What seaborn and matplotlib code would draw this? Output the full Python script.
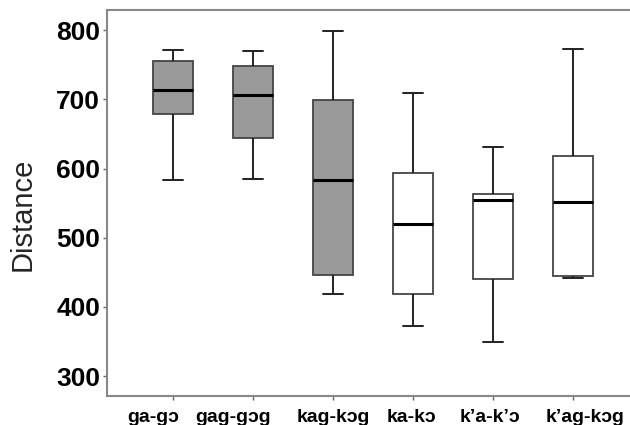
import matplotlib
matplotlib.use("Agg")
import matplotlib.pyplot as plt
import matplotlib.transforms as mtransforms
import seaborn as sns
import pandas as pd

categories = ["ga-gɔ", "gag-gɔg", "kag-kɔg", "ka-kɔ", "k’a-k’ɔ", "k’ag-kɔg"]
# five-number summaries: lower whisker, Q1, median, Q3, upper whisker
ga_go = [583.6, 679.3, 713.5, 755.3, 771.0]
gag_gog = [584.6, 643.8, 705.8, 747.6, 770.0]
kag_kog = [418.7, 446.0, 583.6, 699.0, 799.5]
ka_ko = [372.6, 419.2, 520.2, 593.7, 709.6]
kpa_kpo = [349.0, 440.4, 555.2, 563.9, 631.2]
kpag_kog = [442.3, 444.7, 551.5, 617.8, 773.6]
groups = [ga_go, gag_gog, kag_kog, ka_ko, kpa_kpo, kpag_kog]
fill_colors = ["#999999", "#999999", "#999999", "#ffffff", "#ffffff", "#ffffff"]
yticks = [300, 400, 500, 600, 700, 800]

rows = []
for cat, vals in zip(categories, groups):
    for v in vals:
        rows.append({"cat": cat, "Distance": v})
df = pd.DataFrame(rows)

sns.set_theme(style="white")
plt.rcParams["font.family"] = ["Liberation Sans", "DejaVu Sans"]

fig = plt.figure(figsize=(6.3, 4.25), dpi=100)
ax = fig.add_axes([0.170, 0.068, 0.83, 0.908])

sns.boxplot(data=df, x="cat", y="Distance", order=categories, hue="cat",
            hue_order=categories, palette=fill_colors, legend=False,
            width=0.5, whis=1.5, linecolor="#333333", linewidth=1.3,
            saturation=1, showfliers=False,
            medianprops=dict(color="black", linewidth=2.2),
            whiskerprops=dict(color="#222222", linewidth=1.4),
            capprops=dict(color="#222222", linewidth=1.4),
            boxprops=dict(edgecolor="#444444", linewidth=1.3),
            ax=ax)

ax.set_xlim(-0.825, 5.71)
ax.set_ylim(271, 829)
ax.set_yticks(yticks)
ax.set_yticklabels([str(t) for t in yticks], fontsize=19, fontweight="bold")
ax.set_xticks(range(len(categories)))
ax.set_xticklabels([""] * len(categories))
ax.set_xlabel("")
ax.set_ylabel("Distance", fontsize=21)
ax.yaxis.set_label_coords(-0.135, 0.47)

# category labels, shifted horizontally (pixels) relative to their ticks as in the picture
label_shift_px = [-20, -20, 0, -2, -3, 12]
base = mtransforms.blended_transform_factory(ax.transData, ax.transAxes)
for i, (cat, dx) in enumerate(zip(categories, label_shift_px)):
    tr = base + mtransforms.ScaledTranslation(dx / 100, 0, fig.dpi_scale_trans)
    ax.text(i, -0.034, cat, transform=tr, ha="center", va="top",
            fontsize=14, fontweight="bold", color="black", clip_on=False)

for side in ["left", "bottom", "top"]:
    ax.spines[side].set_visible(True)
    ax.spines[side].set_color("#888888")
    ax.spines[side].set_linewidth(1.5)
ax.spines["right"].set_visible(False)
ax.tick_params(axis="both", which="both", length=3, width=1, color="#666666",
               left=True, bottom=True)
ax.tick_params(axis="y", pad=2, labelcolor="black")

fig.savefig("out.png", dpi=100)
